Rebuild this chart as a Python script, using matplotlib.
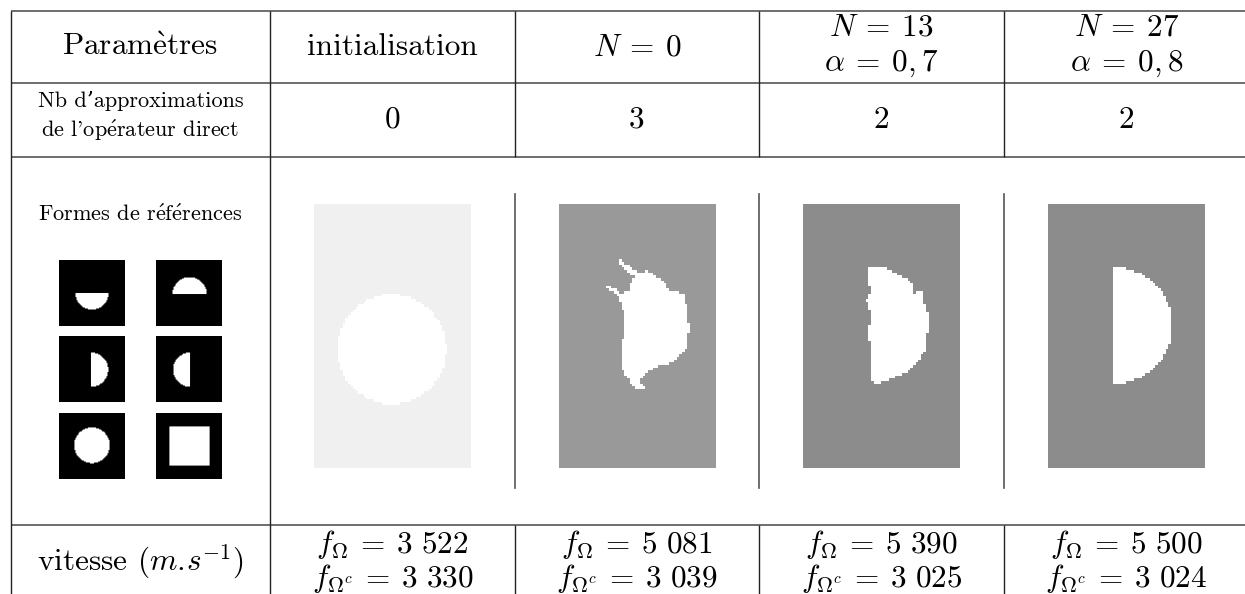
import numpy as np
import matplotlib.pyplot as plt
from matplotlib.path import Path

plt.rcParams['font.family'] = ['cmr10', 'DejaVu Serif']
plt.rcParams['mathtext.fontset'] = 'cm'
plt.rcParams['axes.formatter.use_mathtext'] = True

# table content
header_line1 = ['Paramètres', 'initialisation', r'$N\:=\:0$', r'$N\:=\:13$', r'$N\:=\:27$']
header_line2 = ['', '', '', r'$\alpha\:=\:0,7$', r'$\alpha\:=\:0,8$']
row2_label = ['Nb d\u2019approximations', "de l'opérateur direct"]
nb_approx = [0, 3, 2, 2]
row3_label = 'Formes de références'
row4_label = r'vitesse $(m.\!s^{-1})$'
f_omega = [3522, 5081, 5390, 5500]
f_omega_c = [3330, 3039, 3025, 3024]

# background grey of each result image
bg_gray = [0.94, 0.60, 0.55, 0.55]

# reference shapes (2 x 3 grid)
ref_shapes = ['half_down', 'half_up', 'half_right', 'half_left', 'disk', 'square']

# reconstructed shapes, outline on a 60 x 100 pixel grid
init_disk = (29.8, 55.0, 20.8)
blob_n0_x = [22.3, 30.6, 33.5, 38.0, 40.9, 41.8, 44.7, 47.5, 48.8, 49.7, 48.8, 46.2,
             42.4, 37.3, 33.5, 30.9, 33.5, 30.9, 27.1, 26.5, 24.6, 23.9, 24.6, 25.2,
             24.0, 22.0, 20.0, 18.0, 18.6, 21.0, 24.0, 26.6, 27.2, 29.0, 26.5, 22.6]
blob_n0_y = [20.6, 26.0, 25.4, 27.8, 30.1, 32.6, 32.6, 34.5, 38.9, 47.2, 54.1, 57.9,
             60.4, 61.7, 63.6, 66.8, 70.3, 70.5, 68.0, 65.5, 63.6, 57.9, 50.3, 42.7,
             37.7, 34.5, 33.0, 31.8, 31.2, 32.0, 34.5, 32.6, 30.1, 27.8, 25.7, 21.9]
blob_n13_x = [25.9, 31.6, 36.7, 42.4, 41.8, 43.7, 45.9, 46.6, 48.4, 47.5, 46.9, 43.1,
              39.9, 34.1, 27.8, 25.5, 26.0, 25.2, 25.9, 24.3, 25.9, 24.6, 25.2]
blob_n13_y = [23.8, 24.4, 26.9, 30.1, 33.9, 33.0, 33.2, 38.3, 44.0, 49.1, 55.4, 60.4,
              63.6, 66.1, 68.3, 66.8, 57.9, 49.1, 41.5, 36.4, 32.6, 28.8, 25.0]
half_disk_n27 = (25.5, 46.0, 22.0)

GW, GH = 60, 100
gx, gy = np.meshgrid(np.arange(GW) + 0.5, np.arange(GH) + 0.5)
grid_pts = np.column_stack([gx.ravel(), gy.ravel()])


def poly_mask(xs, ys):
    return Path(np.column_stack([xs, ys])).contains_points(grid_pts).reshape(GH, GW)


def disk_mask(cx, cy, r):
    return (gx - cx) ** 2 + (gy - cy) ** 2 <= r ** 2


def ref_mask(kind, n=64):
    u, v = np.meshgrid((np.arange(n) + 0.5) / n, (np.arange(n) + 0.5) / n)
    if kind == 'half_down':
        return ((u - 0.5) ** 2 + (v - 0.5) ** 2 <= 0.25 ** 2) & (v >= 0.5)
    if kind == 'half_up':
        return ((u - 0.51) ** 2 + (v - 0.52) ** 2 <= 0.26 ** 2) & (v <= 0.52)
    if kind == 'half_right':
        return ((u - 0.485) ** 2 + (v - 0.51) ** 2 <= 0.26 ** 2) & (u >= 0.485)
    if kind == 'half_left':
        return ((u - 0.52) ** 2 + (v - 0.51) ** 2 <= 0.26 ** 2) & (u <= 0.52)
    if kind == 'disk':
        return (u - 0.5) ** 2 + (v - 0.49) ** 2 <= 0.27 ** 2
    return (u >= 0.2) & (u <= 0.81) & (v >= 0.2) & (v <= 0.79)


def tex_accents(s):
    # cmr10 has no accented letters: build them with mathtext accents
    s = s.replace('è', r'$\mathrm{\grave{e}}$')
    return s.replace('é', r'$\mathrm{\acute{e}}$')


masks = [disk_mask(*init_disk),
         poly_mask(blob_n0_x, blob_n0_y),
         poly_mask(blob_n13_x, blob_n13_y),
         disk_mask(*half_disk_n27) & (gx >= half_disk_n27[0])]

fig = plt.figure(figsize=(12.45, 5.94), dpi=100)
ax = fig.add_axes([0, 0, 1, 1])

col_x = [11, 270, 515, 759, 1004, 1249]
row_y = [11, 83, 157, 525, 594]
centers = [(a + b) / 2 for a, b in zip(col_x[:-1], col_x[1:])]
hline_kw = dict(color='#555555', lw=1.2, solid_capstyle='butt')
vline_kw = dict(color='#222222', lw=1.0, solid_capstyle='butt')
big = 22.5
small = 16

# grid lines
for y in row_y[:-1]:
    ax.plot([col_x[0], 1245], [y, y], **hline_kw)
for x in col_x[:2]:
    ax.plot([x, x], [row_y[0], row_y[-1]], **vline_kw)
for x in col_x[2:5]:
    ax.plot([x, x], [row_y[0], row_y[2]], **vline_kw)
    ax.plot([x, x], [194, 488], color='#555555', lw=1.2)
    ax.plot([x, x], [row_y[3], row_y[-1]], **vline_kw)

# header row
for i, c in enumerate(centers):
    if header_line2[i]:
        ax.text(c, 36, header_line1[i], ha='center', va='baseline', fontsize=big)
        ax.text(c, 71, header_line2[i], ha='center', va='baseline', fontsize=big)
    else:
        ax.text(c, 55, tex_accents(header_line1[i]), ha='center', va='baseline', fontsize=big)

# number of approximations
ax.text(centers[0], 107, row2_label[0], ha='center', va='baseline', fontsize=small)
ax.text(centers[0], 137, tex_accents(row2_label[1]), ha='center', va='baseline', fontsize=small)
for i, n in enumerate(nb_approx):
    ax.text(centers[i + 1], 128, str(n), ha='center', va='baseline', fontsize=big)

# reference shapes
ax.text(centers[0], 221, tex_accents(row3_label), ha='center', va='baseline', fontsize=small)
for k, kind in enumerate(ref_shapes):
    x0 = [59, 156][k % 2]
    y0 = [260, 336, 413][k // 2]
    ax.imshow(ref_mask(kind).astype(float), cmap='gray', vmin=0, vmax=1,
              interpolation='bilinear', extent=(x0, x0 + 66, y0 + 66, y0), aspect='auto')

# result images
for i, m in enumerate(masks):
    img = np.where(m, 1.0, bg_gray[i])
    c = centers[i + 1]
    ax.imshow(img, cmap='gray', vmin=0, vmax=1, interpolation='nearest',
              extent=(c - 78.5, c + 78.5, 468, 204), aspect='auto')

# speeds
ax.text(centers[0], 570, row4_label, ha='center', va='baseline', fontsize=big)
for i in range(4):
    a = f'{f_omega[i]:,}'.replace(',', r'\ ')
    b = f'{f_omega_c[i]:,}'.replace(',', r'\ ')
    ax.text(centers[i + 1], 553, rf'$f_{{\Omega}}\:=\:{a}$', ha='center', va='baseline', fontsize=big)
    ax.text(centers[i + 1], 587, rf'$f_{{\Omega^c}}\:=\:{b}$', ha='center', va='baseline', fontsize=big)

ax.set_xlim(0, 1245)
ax.set_ylim(594, 0)
ax.axis('off')
fig.savefig('out.png', dpi=100)
